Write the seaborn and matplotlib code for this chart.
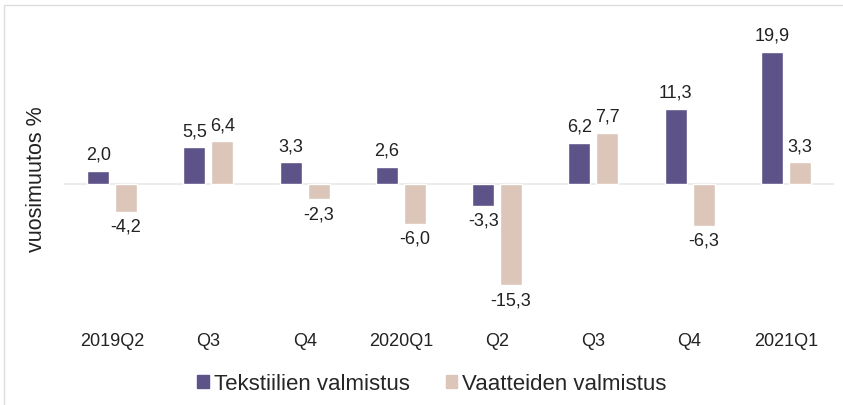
import pandas as pd
import matplotlib.pyplot as plt
import seaborn as sns
from matplotlib.patches import Rectangle

# Quarterly year-on-year change, textiles vs clothing
quarters = ['2019Q2', 'Q3', 'Q4', '2020Q1', 'Q2', 'Q3 ', 'Q4 ', '2021Q1']
tick_labels = ['2019Q2', 'Q3', 'Q4', '2020Q1', 'Q2', 'Q3', 'Q4', '2021Q1']
tekstiilit = [2.0, 5.5, 3.3, 2.6, -3.3, 6.2, 11.3, 19.9]
vaatteet = [-4.2, 6.4, -2.3, -6.0, -15.3, 7.7, -6.3, 3.3]
series_names = ['Tekstiilien valmistus', 'Vaatteiden valmistus']
colors = ['#5d5388', '#dcc5b9']

df = pd.DataFrame({
    'quarter': quarters * 2,
    'value': tekstiilit + vaatteet,
    'series': [series_names[0]] * len(quarters) + [series_names[1]] * len(quarters),
})

sns.set_style('white')
plt.rcParams['font.family'] = ['Liberation Sans', 'DejaVu Sans']

fig = plt.figure(figsize=(8.43, 4.05), dpi=100)
ax = fig.add_axes([64 / 843, 85 / 405, 770 / 843, 300 / 405])

sns.barplot(data=df, x='quarter', y='value', hue='series', palette=colors,
            width=0.58, gap=0.21, ax=ax, legend=False, saturation=1)

ax.axhline(0, color='#e8e8e8', lw=1.2, zorder=0.5)
ax.set_ylim(-20.5, 24.7)
ax.set_xlim(-0.5, len(quarters) - 0.5)

# value labels with decimal comma
for cont, vals in zip(ax.containers, [tekstiilit, vaatteet]):
    ax.bar_label(cont, labels=[f'{v:.1f}'.replace('.', ',') for v in vals],
                 padding=5, fontsize=13, color='#222222')

ax.set_xticks(range(len(quarters)))
ax.set_xticklabels(tick_labels, fontsize=13, color='#222222')
ax.tick_params(axis='x', length=0, pad=9)
ax.set_yticks([])
ax.set_xlabel('')
ax.set_ylabel('')
for s in ax.spines.values():
    s.set_visible(False)

fig.text(37 / 843, 1 - 179 / 405, 'vuosimuutos %', rotation=90,
         ha='center', va='center', fontsize=15.5, color='#222222')

handles = [plt.Rectangle((0, 0), 1, 1, color=c) for c in colors]
fig.legend(handles, series_names, loc='center', ncol=2,
           bbox_to_anchor=(432 / 843, 1 - 384 / 405), frameon=False,
           fontsize=16, handlelength=0.5, handleheight=0.55,
           handletextpad=0.25, columnspacing=1.6, borderpad=0)

# light frame around the picture
fig.add_artist(Rectangle((4 / 843, -0.05), 1.2, 1 - 5 / 405 + 0.05,
                         transform=fig.transFigure, fill=False,
                         edgecolor='#dddddd', lw=1))

fig.savefig('out.png', dpi=100)
